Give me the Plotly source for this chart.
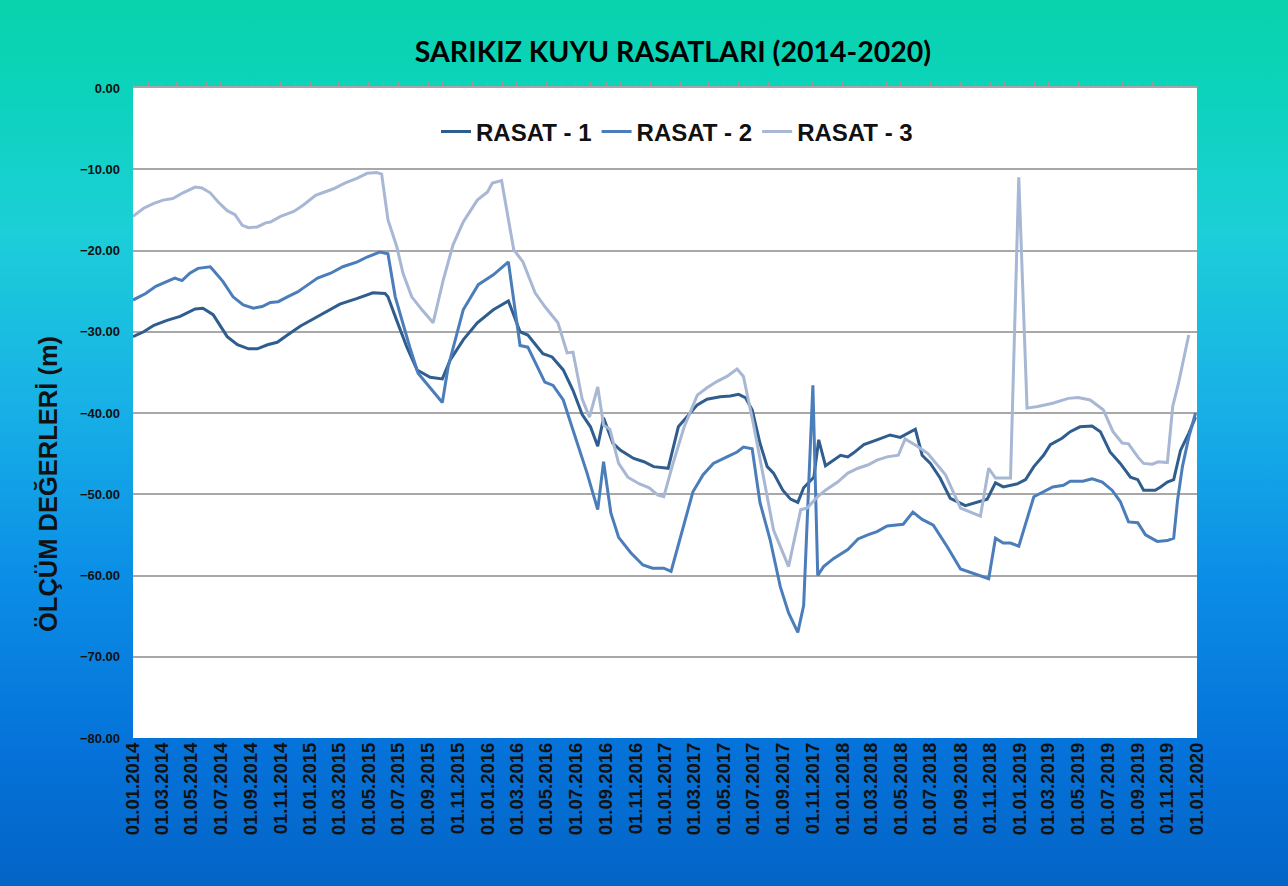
import base64
import plotly.graph_objects as go

# ---------------- DATA ----------------
title_text = "SARIKIZ KUYU RASATLARI (2014-2020)"
y_title = "ÖLÇÜM DEĞERLERİ (m)"
series_names = ["RASAT - 1", "RASAT - 2", "RASAT - 3"]

r1_dates = ["2014-01-01","2014-01-23","2014-02-13","2014-03-12","2014-04-08","2014-05-09","2014-05-25","2014-06-15",
            "2014-07-14","2014-08-04","2014-08-27","2014-09-14","2014-10-05","2014-10-25","2014-11-15","2014-12-12",
            "2015-01-08","2015-02-06","2015-03-03","2015-04-08","2015-05-10","2015-06-04","2015-06-10","2015-06-28",
            "2015-07-19","2015-08-09","2015-09-05","2015-09-30","2015-10-16","2015-11-12","2015-12-11","2016-01-13",
            "2016-02-13","2016-03-08","2016-03-24","2016-04-24","2016-05-13","2016-06-05","2016-06-25","2016-07-14",
            "2016-07-31","2016-08-15","2016-08-27","2016-09-15","2016-10-01","2016-10-28","2016-11-18","2016-12-08",
            "2017-01-07","2017-01-28","2017-02-17","2017-03-08","2017-03-28","2017-04-24","2017-05-15","2017-06-01",
            "2017-06-15","2017-06-29","2017-07-15","2017-07-30","2017-08-12","2017-08-31","2017-09-16","2017-10-01",
            "2017-10-13","2017-11-03","2017-11-13","2017-11-27","2017-12-28","2018-01-12","2018-01-24","2018-02-14",
            "2018-03-13","2018-04-09","2018-04-30","2018-05-31","2018-06-14","2018-07-01","2018-07-21","2018-08-11",
            "2018-09-11","2018-10-02","2018-10-26","2018-11-12","2018-11-28","2018-12-28","2019-01-13","2019-01-30",
            "2019-02-19","2019-03-05","2019-03-29","2019-04-15","2019-05-05","2019-05-30","2019-06-16","2019-07-06",
            "2019-07-27","2019-08-17","2019-09-01","2019-09-13","2019-10-07","2019-10-18","2019-11-01","2019-11-14",
            "2019-11-28","2019-12-15","2019-12-29"]
r1_vals = [-30.6,-30.0,-29.2,-28.6,-28.1,-27.2,-27.1,-27.9,
           -30.6,-31.6,-32.1,-32.1,-31.6,-31.3,-30.4,-29.3,
           -28.4,-27.4,-26.6,-25.9,-25.2,-25.3,-25.7,-28.6,
           -31.9,-34.7,-35.6,-35.8,-33.5,-31.0,-28.9,-27.3,
           -26.2,-30.0,-30.4,-32.7,-33.1,-34.7,-37.2,-40.2,
           -41.7,-44.1,-40.6,-43.7,-44.6,-45.6,-46.0,-46.6,
           -46.8,-41.7,-40.3,-39.0,-38.3,-38.0,-37.9,-37.7,
           -38.1,-39.6,-43.7,-46.6,-47.4,-49.5,-50.6,-51.0,
           -49.2,-47.9,-43.3,-46.5,-45.2,-45.4,-44.9,-43.9,
           -43.3,-42.7,-43.0,-42.0,-45.2,-46.2,-48.0,-50.5,
           -51.4,-51.0,-50.6,-48.6,-49.1,-48.7,-48.2,-46.6,
           -45.2,-43.9,-43.1,-42.3,-41.7,-41.6,-42.3,-44.8,
           -46.2,-47.9,-48.2,-49.5,-49.5,-49.1,-48.5,-48.2,
           -44.6,-42.5,-40.5]

r2_dates = ["2014-01-01","2014-01-27","2014-02-17","2014-03-04","2014-03-28","2014-04-12","2014-04-28","2014-05-15",
            "2014-06-09","2014-06-15","2014-07-05","2014-07-26","2014-08-16","2014-09-06","2014-09-24","2014-10-11",
            "2014-10-27","2014-11-15","2014-12-06","2014-12-18","2015-01-16","2015-02-12","2015-03-09","2015-04-08",
            "2015-04-28","2015-05-24","2015-06-10","2015-06-25","2015-07-09","2015-07-25","2015-08-11","2015-09-05",
            "2015-09-30","2015-10-12","2015-11-12","2015-12-13","2016-01-13","2016-02-13","2016-03-08","2016-03-24",
            "2016-04-28","2016-05-15","2016-06-05","2016-06-25","2016-07-14","2016-07-24","2016-08-15","2016-08-27",
            "2016-09-11","2016-09-27","2016-10-22","2016-11-16","2016-12-06","2016-12-29","2017-01-13","2017-02-03",
            "2017-02-27","2017-03-20","2017-04-10","2017-05-08","2017-05-29","2017-06-11","2017-06-29","2017-07-15",
            "2017-08-05","2017-08-26","2017-09-12","2017-10-01","2017-10-13","2017-11-01","2017-11-11","2017-11-23",
            "2017-12-14","2018-01-12","2018-02-02","2018-02-22","2018-03-13","2018-04-03","2018-05-06","2018-05-26",
            "2018-06-14","2018-07-07","2018-08-05","2018-09-01","2018-09-28","2018-10-29","2018-11-12","2018-11-28",
            "2018-12-13","2018-12-30","2019-01-30","2019-02-19","2019-03-10","2019-04-01","2019-04-15","2019-05-11",
            "2019-05-30","2019-06-20","2019-07-10","2019-07-27","2019-08-13","2019-09-01","2019-09-17","2019-10-11",
            "2019-11-01","2019-11-14","2019-11-22","2019-12-02","2019-12-15","2019-12-29"]
r2_vals = [-26.1,-25.3,-24.4,-24.0,-23.4,-23.7,-22.8,-22.2,
           -22.0,-22.4,-23.8,-25.7,-26.7,-27.1,-26.9,-26.4,
           -26.3,-25.7,-25.1,-24.6,-23.4,-22.8,-22.0,-21.4,
           -20.8,-20.2,-20.4,-25.7,-28.6,-31.9,-35.1,-36.9,
           -38.7,-34.3,-27.3,-24.2,-23.0,-21.4,-31.7,-31.9,
           -36.2,-36.6,-38.4,-42.1,-45.4,-47.4,-51.9,-46.0,
           -52.3,-55.3,-57.2,-58.7,-59.1,-59.1,-59.5,-54.8,
           -49.7,-47.6,-46.2,-45.4,-44.8,-44.2,-44.4,-51.0,
           -55.6,-61.4,-64.6,-67.0,-63.7,-36.6,-60.0,-58.9,
           -57.9,-56.8,-55.5,-55.0,-54.6,-53.9,-53.7,-52.2,
           -53.1,-53.8,-56.5,-59.2,-59.8,-60.4,-55.4,-56.0,
           -56.0,-56.4,-50.3,-49.7,-49.1,-48.9,-48.4,-48.4,
           -48.1,-48.5,-49.5,-50.9,-53.4,-53.5,-55.0,-55.8,
           -55.7,-55.4,-50.7,-46.6,-43.0,-40.0]

r3_dates = ["2014-01-01","2014-01-23","2014-02-13","2014-03-04","2014-03-24","2014-04-14","2014-05-09","2014-05-23",
            "2014-06-09","2014-06-25","2014-07-14","2014-07-30","2014-08-14","2014-08-27","2014-09-14","2014-10-01",
            "2014-10-11","2014-11-01","2014-11-28","2014-12-18","2015-01-12","2015-02-02","2015-02-18","2015-03-13",
            "2015-04-08","2015-04-28","2015-05-18","2015-05-28","2015-06-10","2015-06-28","2015-07-11","2015-07-29",
            "2015-08-19","2015-09-11","2015-10-02","2015-10-22","2015-11-12","2015-12-11","2016-01-01","2016-01-11",
            "2016-01-30","2016-02-24","2016-03-14","2016-04-08","2016-04-28","2016-05-25","2016-06-13","2016-06-25",
            "2016-07-14","2016-07-29","2016-08-15","2016-08-27","2016-09-09","2016-09-27","2016-10-16","2016-11-08",
            "2016-11-29","2016-12-17","2016-12-29","2017-01-17","2017-02-09","2017-03-08","2017-03-28","2017-04-18",
            "2017-05-08","2017-05-29","2017-06-11","2017-07-01","2017-07-21","2017-08-12","2017-09-12","2017-10-07",
            "2017-10-20","2017-11-11","2017-11-27","2017-12-22","2018-01-12","2018-02-02","2018-02-22","2018-03-13",
            "2018-04-03","2018-04-26","2018-05-10","2018-06-04","2018-06-26","2018-08-01","2018-09-01","2018-10-12",
            "2018-10-29","2018-11-12","2018-12-13","2018-12-30","2019-01-16","2019-02-07","2019-03-10","2019-04-11",
            "2019-05-01","2019-05-26","2019-06-22","2019-07-12","2019-07-31","2019-08-13","2019-09-01","2019-09-13",
            "2019-10-01","2019-10-13","2019-11-01","2019-11-12","2019-11-24","2019-12-15"]
r3_vals = [-15.8,-14.8,-14.2,-13.8,-13.6,-12.9,-12.2,-12.3,
           -12.9,-14.0,-15.1,-15.6,-16.9,-17.2,-17.1,-16.6,
           -16.5,-15.8,-15.2,-14.4,-13.2,-12.7,-12.4,-11.7,
           -11.1,-10.5,-10.4,-10.6,-16.2,-19.5,-22.8,-25.7,
           -27.3,-28.9,-23.6,-19.3,-16.5,-13.8,-12.8,-11.7,
           -11.4,-19.9,-21.4,-25.2,-26.9,-28.9,-32.6,-32.5,
           -38.3,-40.5,-36.8,-41.5,-42.0,-46.2,-47.9,-48.7,
           -49.2,-50.1,-50.3,-46.2,-41.7,-37.8,-36.9,-36.1,
           -35.5,-34.6,-35.5,-41.2,-47.4,-54.4,-58.9,-51.9,
           -51.7,-50.3,-49.5,-48.5,-47.4,-46.8,-46.4,-45.8,
           -45.4,-45.2,-43.2,-44.1,-45.0,-47.6,-51.7,-52.7,
           -46.8,-48.0,-48.0,-11.0,-39.4,-39.2,-38.8,-38.2,
           -38.1,-38.4,-39.6,-42.3,-43.7,-43.8,-45.4,-46.2,
           -46.3,-46.0,-46.1,-39.2,-36.3,-30.4]

x_range = ["2014-01-01", "2020-01-01"]
y_range = [-80, 0]

# ---------------- STYLE ----------------
colors = ["#2F5D8E", "#4A7DBA", "#A7B7D4"]
W, H = 1288, 886
ml, mr, mt, mb = 133, 91, 88, 148
pw, ph = W - ml - mr, H - mt - mb

svg = f'''<svg xmlns="http://www.w3.org/2000/svg" width="{W}" height="{H}" preserveAspectRatio="none">
<defs><linearGradient id="g" x1="0" y1="0" x2="0" y2="1">
<stop offset="0" stop-color="#08D3AC"/>
<stop offset="0.12" stop-color="#0DD3BE"/>
<stop offset="0.26" stop-color="#1CCFD8"/>
<stop offset="0.45" stop-color="#18B2E6"/>
<stop offset="0.65" stop-color="#0B8EE6"/>
<stop offset="0.85" stop-color="#0572D9"/>
<stop offset="1" stop-color="#0464C6"/>
</linearGradient></defs>
<rect x="0" y="0" width="{W}" height="{H}" fill="url(#g)"/>
</svg>'''
bg_src = "data:image/svg+xml;base64," + base64.b64encode(svg.encode()).decode()

fig = go.Figure()
for name, d, v, c in zip(series_names, [r1_dates, r2_dates, r3_dates], [r1_vals, r2_vals, r3_vals], colors):
    fig.add_trace(go.Scatter(x=d, y=v, mode="lines", name=name,
                             line=dict(color=c, width=3)))

# dummy trace for the top tick axis
fig.add_trace(go.Scatter(x=[x_range[0]], y=[y_range[0]], xaxis="x2", mode="lines",
                         line=dict(width=0), showlegend=False, hoverinfo="skip"))

bold = dict(family="Liberation Sans, Arial, sans-serif", color="#111111", weight="bold")

fig.update_layout(
    width=W, height=H,
    margin=dict(l=ml, r=mr, t=mt, b=mb, autoexpand=False),
    paper_bgcolor="#0A9EE0",
    plot_bgcolor="rgba(0,0,0,0)",
    showlegend=True,
    title=dict(text=title_text, x=673 / W, xref="container", xanchor="center",
               y=1 - 52 / H, yref="container", yanchor="middle",
               font=dict(family="Lato, sans-serif", size=28.5, color="#000000", weight="bold")),
    legend=dict(orientation="h", x=(677 - ml) / pw, xanchor="center",
                y=1 - (132 - mt) / ph, yanchor="middle",
                bgcolor="rgba(0,0,0,0)", font=dict(size=24, **bold),
                itemwidth=30, tracegroupgap=0),
    xaxis=dict(type="date", range=x_range, tickformat="%d.%m.%Y", dtick="M2", tick0="2014-01-01",
               tickangle=-90, tickfont=dict(size=18.5, **bold), showgrid=False, zeroline=False,
               showline=False, ticks=""),
    xaxis2=dict(type="date", range=x_range, overlaying="x", side="top", dtick="M1", tick0="2014-01-01",
                showticklabels=False, ticks="outside", ticklen=4, tickcolor="#9A9A9A",
                showline=True, linecolor="#A6A6A6", linewidth=1.5, showgrid=False, zeroline=False),
    yaxis=dict(range=y_range, dtick=10, tickformat=".2f", tickfont=dict(size=13, **bold),
               showgrid=True, gridcolor="#A8A8A8", gridwidth=1.5, zeroline=False, showline=False,
               ticks="", ticklabelstandoff=12),
    images=[dict(source=bg_src, xref="paper", yref="paper",
                 x=-ml / pw, y=1 + mt / ph, sizex=W / pw, sizey=H / ph,
                 xanchor="left", yanchor="top", sizing="stretch", layer="below")],
    shapes=[dict(type="rect", xref="paper", yref="paper", x0=0, x1=1, y0=0, y1=1,
                 fillcolor="#FFFFFF", line=dict(width=0), layer="below")],
    annotations=[dict(text=y_title, xref="paper", yref="paper", x=(48 - ml) / pw, y=(H - mb - 484) / ph,
                      textangle=-90, showarrow=False, xanchor="center", yanchor="middle",
                      font=dict(size=25.5, **bold))],
)

fig.write_html("out.html", config={"displayModeBar": False},
               post_script="document.body.style.margin='0';document.body.style.overflow='hidden';")
